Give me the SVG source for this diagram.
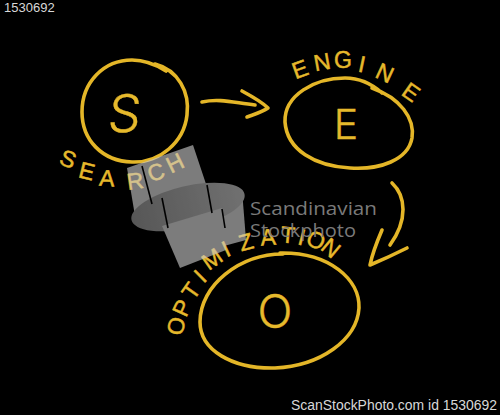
<svg xmlns="http://www.w3.org/2000/svg" width="500" height="415" viewBox="0 0 500 415">
<defs>
<style>
.ink{fill:none;stroke:#e4b628;stroke-width:3.6;stroke-linecap:round;stroke-linejoin:round}
.lt{font-family:"Liberation Sans",Arial,sans-serif;fill:#e6b92c;stroke:#e6b92c;stroke-width:0.5;text-anchor:middle;dominant-baseline:central}
.sm{font-size:23px}
.bg{font-family:Inter,"Liberation Sans",sans-serif;font-weight:300;fill:#e6b92c;stroke:#e6b92c;stroke-width:0.4;text-anchor:middle;dominant-baseline:central}
.wm{font-family:"Open Sans","Liberation Sans",sans-serif;font-size:18px;fill:#7a7a7a}
.id{font-family:"Liberation Sans",Arial,sans-serif;fill:#d8d8d8}
.paper{fill:#c8c8c8}
</style>
<linearGradient id="gband" x1="0" y1="0" x2="1" y2="0">
<stop offset="0" stop-color="#8c8c8c"/>
<stop offset="1" stop-color="#b6b6b6"/>
</linearGradient>
</defs>
<rect width="500" height="415" fill="#000"/>

<g id="connectors">
<path class="ink" d="M202 102 C220 98 235 103 255 105"/>
<path class="ink" d="M242 91 C255 98 263 103 268 108 C262 112 255 114 247 117"/>
<path class="ink" d="M392 183 C406 196 408 220 390 245"/>
<path class="ink" d="M382 230 C376 244 372 255 370 265 C382 260 395 254 407 248"/>
</g>

<g id="node-search">
<path class="ink" d="M155 64 C178 70 190 92 187 115 C184 142 160 163 132 162 C102 161 82 140 82 112 C82 82 104 60 132 60 C145 60 155 64 166 71"/>
<text class="bg" transform="translate(125,113) skewX(-6)" style="font-size:52px">S</text>
<g class="lt sm">
<text transform="translate(68,159) rotate(22)">S</text>
<text transform="translate(87,171) rotate(14)">E</text>
<text transform="translate(107,178) rotate(4)">A</text>
<text transform="translate(135,181) rotate(-8)">R</text>
<text transform="translate(156,172) rotate(-18)">C</text>
<text transform="translate(175,163) rotate(-26)">H</text>
</g>
</g>

<g id="node-engine">
<path class="ink" d="M372 88 C400 98 415 118 412 138 C408 160 380 170 350 168 C315 166 287 150 285 122 C284 95 315 78 345 78 C360 78 372 84 382 93"/>
<text class="bg" x="346" y="124" style="font-size:41px">E</text>
<g class="lt sm">
<text transform="translate(300,69) rotate(-20)">E</text>
<text transform="translate(322,62) rotate(-10)">N</text>
<text transform="translate(343,60) rotate(0)">G</text>
<text transform="translate(362,64) rotate(12)">I</text>
<text transform="translate(385,73) rotate(25)">N</text>
<text transform="translate(411,92) rotate(35)">E</text>
</g>
</g>

<g id="node-optimization">
<path class="ink" d="M280 253 C330 252 360 280 359 308 C357 340 320 366 275 368 C232 369 200 350 200 322 C200 285 240 254 283 254"/>
<text class="bg" x="275" y="311" style="font-size:46px">O</text>
<g class="lt sm">
<text transform="translate(176,326) rotate(-75)">O</text>
<text transform="translate(182,308) rotate(-65)">P</text>
<text transform="translate(191,291) rotate(-55)">T</text>
<text transform="translate(200,276) rotate(-45)">I</text>
<text transform="translate(212,259) rotate(-35)">M</text>
<text transform="translate(226,249) rotate(-25)">I</text>
<text transform="translate(246,242) rotate(-15)">Z</text>
<text transform="translate(268,237) rotate(-5)">A</text>
<text transform="translate(288,235) rotate(5)">T</text>
<text transform="translate(302,237) rotate(15)">I</text>
<text transform="translate(316,240) rotate(25)">O</text>
<text transform="translate(331,248) rotate(40)">N</text>
</g>
</g>

<g id="watermark" opacity="0.62">
<polygon class="paper" points="127,168 193,145 210,196 136,222"/>
<polygon class="paper" points="205,190 242,190 246,240 224,246"/>
<ellipse cx="188" cy="207" rx="58" ry="21" fill="url(#gband)" transform="rotate(-13 188 207)"/>
<polygon class="paper" points="162,226 222,208 226,250 180,268"/>
<g stroke="#000" stroke-width="1.6">
<line x1="142" y1="166" x2="152" y2="204"/>
<line x1="162" y1="198" x2="168" y2="228"/>
<line x1="207" y1="185" x2="212" y2="213"/>
<line x1="222" y1="209" x2="225" y2="228"/>
</g>
</g>
<text class="wm" x="250" y="215" textLength="127" lengthAdjust="spacingAndGlyphs">Scandinavian</text>
<text class="wm" x="250" y="237" textLength="106" lengthAdjust="spacingAndGlyphs">Stockphoto</text>

<text class="id" x="4" y="12" font-size="13">1530692</text>
<text class="id" x="291" y="410" font-size="14" textLength="206" lengthAdjust="spacingAndGlyphs">ScanStockPhoto.com id 1530692</text>
</svg>
